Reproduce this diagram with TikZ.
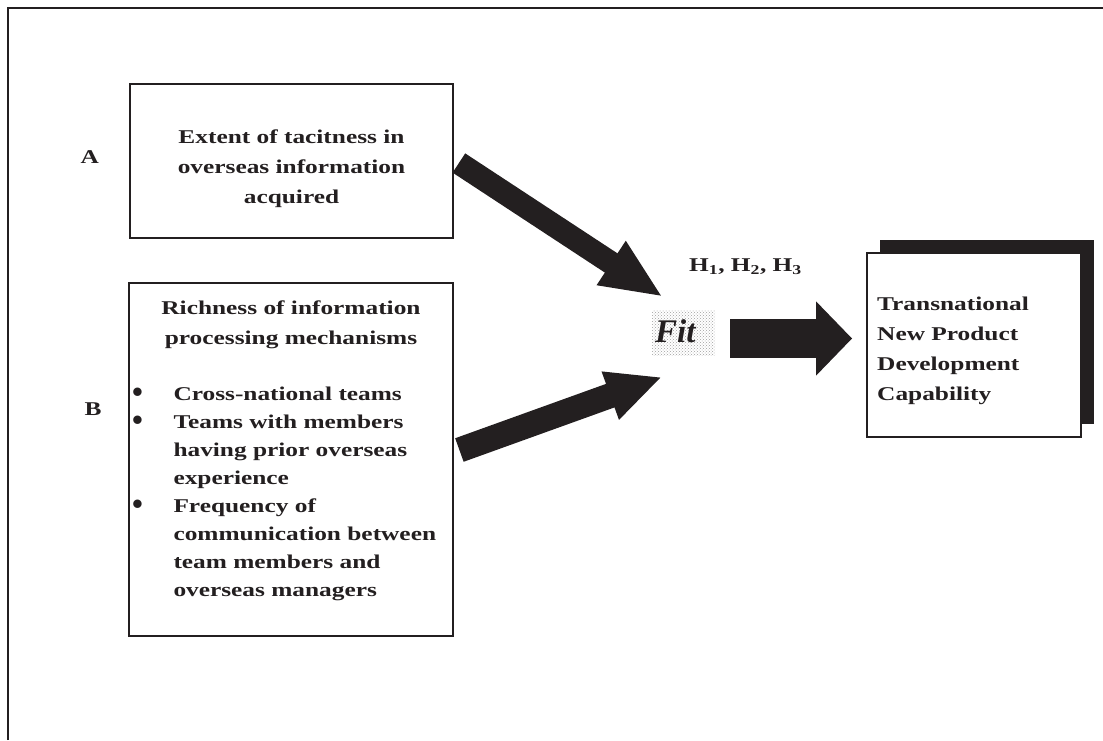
\documentclass[tikz,border=0pt]{standalone}
\usepackage{fontspec}
\setmainfont{Liberation Serif}[FakeStretch=1.3]
\newfontfamily\fitfont{Liberation Serif}
\usetikzlibrary{positioning}
\usetikzlibrary{shadows}
\usetikzlibrary{arrows.meta}
\usetikzlibrary{patterns}
\definecolor{ink}{HTML}{231F20}
\tikzstyle{block} = [rectangle, draw=ink, line width=1.8pt, fill=white, inner sep=0pt]
\tikzstyle{txt} = [inner sep=0pt, text=ink, font=\fontsize{19.5}{30}\selectfont\bfseries]
\tikzstyle{fat} = [draw=ink, line width=23pt, -{Triangle[length=62pt,width=48pt]}]
\newcommand{\dotitem}{\raisebox{-1.5pt}{\fitfont\fontsize{31}{28}\selectfont\textbullet}}

\begin{document}
\begin{tikzpicture}[x=1pt, y=-1pt]
  \useasboundingbox (0,0) rectangle (1103,740);
  % Frame
  \draw[ink, line width=2pt] (8,740) -- (8,8) -- (1103,8);
  % Place boxes
  \node[block, minimum width=323pt, minimum height=154pt] (boxA) at (291.5,161) {};
  \node[block, minimum width=324pt, minimum height=353pt] (boxB) at (291,459.5) {};
  \node[block, minimum width=214pt, minimum height=184pt,
        general shadow={shadow xshift=13pt, shadow yshift=13pt, fill=ink}] (tnpd) at (974,345) {};
  % Texts
  \node[txt, align=center] (aTxt) at (boxA) [yshift=-7.5pt] {Extent of tacitness in\\overseas information\\acquired};
  \node[txt, left=30pt of boxA.west, yshift=4pt] (tagA) {A};
  \node[txt] (tagB) at (93,409) {B};
  \node[txt, align=center, anchor=north] (bHead) at (291,301) {Richness of information\\processing mechanisms};
  \node[txt, anchor=north west, font=\fontsize{19.5}{28}\selectfont\bfseries] (bList) at (132,381)
    {\begin{tabular}{@{}p{41.3pt}@{}l@{}}
     \dotitem & Cross-national teams\\
     \dotitem & Teams with members\\
              & having prior overseas\\
              & experience\\
     \dotitem & Frequency of\\
              & communication between\\
              & team members and\\
              & overseas managers
     \end{tabular}};
  \node[txt, align=left, anchor=north west] (tnpdTxt) at (877,296.7)
    {Transnational\\New Product\\Development\\Capability};
  \node[pattern=crosshatch dots, pattern color=gray!75, minimum width=63pt, minimum height=45pt] (fitBg) at (683.5,332.5) {};
  \node[anchor=base west, inner sep=0pt, text=ink, font=\fitfont\bfseries\itshape\fontsize{33}{33}\selectfont] (fit) at (655,342) {Fit};
  \node[txt, anchor=base west] (hyp) at (689,271) {H\textsubscript{1}, H\textsubscript{2}, H\textsubscript{3}};
  % Draw arrows
  \coordinate (aTip) at (663,297);
  \coordinate (bTip) at (662,377);
  \path [fat] ([xshift=5pt,yshift=-2pt]boxA.east) -- (aTip);
  \path [fat, line width=25pt, -{Triangle[length=55pt,width=47pt]}] ([xshift=5.5pt,yshift=9.5pt]boxB.east) -- (bTip);
  \path [fat, line width=39pt, -{Triangle[length=36pt,width=72pt]}] ([xshift=15pt,yshift=-6pt]fitBg.east) -- ([xshift=-14pt,yshift=6.5pt]tnpd.west);
\end{tikzpicture}
\end{document}
